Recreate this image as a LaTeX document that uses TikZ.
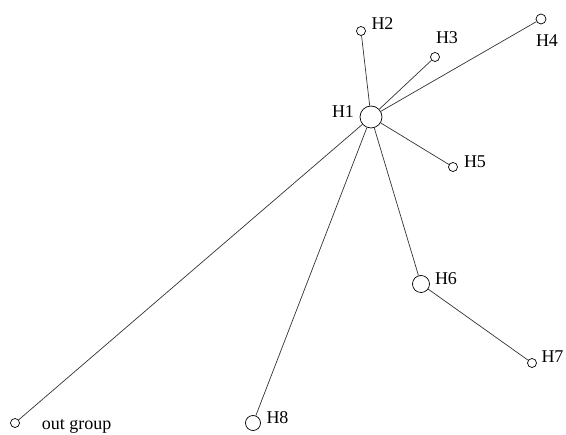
\documentclass[tikz,border=0pt]{standalone}
\usepackage{fontspec}
\setmainfont{Liberation Serif}
\begin{document}
\begin{tikzpicture}[x=1pt,y=-1pt,
  hap/.style={circle,draw=black,fill=white,line width=0.7pt,inner sep=0pt,minimum size=#1},
  hap/.default=9pt,
  branch/.style={draw=black!80,line width=0.7pt},
  lbl/.style={font=\fontsize{18}{18}\selectfont,inner sep=0pt,anchor=base}]
\useasboundingbox (0,0) rectangle (566,435);
% haplotype circles
\node[hap=22pt] (h1) at (371,117) {};
\node[hap] (h2) at (361,31) {};
\node[hap] (h3) at (435,57) {};
\node[hap=10pt] (h4) at (541,19) {};
\node[hap] (h5) at (453,167) {};
\node[hap=17pt] (h6) at (421,284) {};
\node[hap] (h7) at (532,363) {};
\node[hap=15pt] (h8) at (253,423) {};
\node[hap] (og) at (15,423) {};
% labels, placed by their baselines
\node[lbl] (l1) at (343,117.3) {H1};
\node[lbl] (l2) at (382.5,29.3) {H2};
\node[lbl] (l3) at (447,43.3) {H3};
\node[lbl] (l4) at (547,46.3) {H4};
\node[lbl] (l5) at (475,167.3) {H5};
\node[lbl] (l6) at (446,284.3) {H6};
\node[lbl] (l7) at (552.5,362.3) {H7};
\node[lbl] (l8) at (277.5,423.3) {H8};
\node[lbl] (lo) at (76.5,430) {out group};
% branches
\draw[branch] (h1) -- (h2);
\draw[branch] (h1) -- (h3);
\draw[branch] (h1) -- (h4);
\draw[branch] (h1) -- (h5);
\draw[branch] (h1) -- (h6);
\draw[branch] (h6) -- (h7);
\draw[branch] (h1) -- (h8);
\draw[branch] (h1) -- (og);
\end{tikzpicture}
\end{document}
